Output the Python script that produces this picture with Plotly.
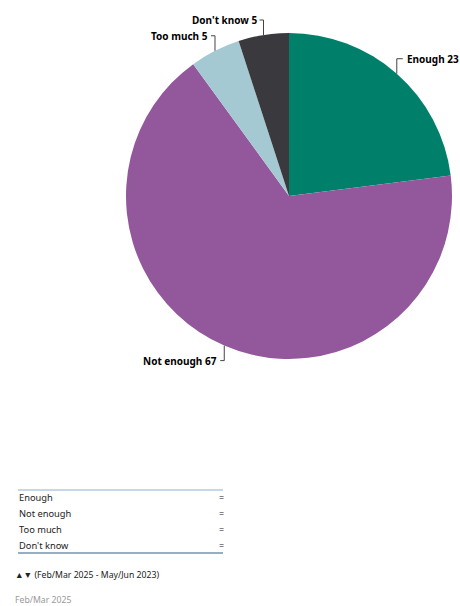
import math
import plotly.graph_objects as go

categories = ["Enough", "Not enough", "Too much", "Don't know"]
values = [23, 67, 5, 5]
colors = ["#00806b", "#93589c", "#a5c9d2", "#3a393e"]
legend_marks = ["=", "=", "=", "="]
footnote = "\u25b2\u25bc (Feb/Mar 2025 - May/Jun 2023)"
period = "Feb/Mar 2025"

W, H = 460, 606
# pie geometry in pixels
cx, cy, R = 289, 196, 163

def px(x):
    return x / W

def py(y):
    return 1 - y / H

fig = go.Figure()
fig.add_trace(go.Pie(
    labels=categories, values=values, sort=False, direction="clockwise", rotation=0,
    marker=dict(colors=colors, line=dict(color="white", width=0)),
    textinfo="none", hoverinfo="label+value", showlegend=False,
    domain=dict(x=[px(cx - R), px(cx + R)], y=[py(cy + R), py(cy - R)]),
))

shapes = []
annotations = []
total = sum(values)
acc = 0
LEAD = 15
for cat, v in zip(categories, values):
    mid = (acc + v / 2) / total * 2 * math.pi
    acc += v
    sx = cx + R * math.sin(mid)
    sy = cy - R * math.cos(mid)
    up = math.cos(mid) > 0
    right = math.sin(mid) > 0
    ey = sy - LEAD if up else sy + LEAD
    hx = sx + 6 if right else sx - 4
    line = dict(color="#444444", width=1)
    shapes.append(dict(type="line", xref="paper", yref="paper",
                       x0=px(sx), y0=py(sy), x1=px(sx), y1=py(ey), line=line))
    shapes.append(dict(type="line", xref="paper", yref="paper",
                       x0=px(sx), y0=py(ey), x1=px(hx), y1=py(ey), line=line))
    annotations.append(dict(
        xref="paper", yref="paper", x=px(hx + (2 if right else -1)), y=py(ey),
        text=f"<b>{cat} {v}</b>", showarrow=False,
        xanchor="left" if right else "right", yanchor="middle",
        font=dict(family="Noto Sans", size=10, color="#000000"),
    ))

# legend table
tx0, tx1 = 18, 223
row_y = [497, 513, 529, 545]
shapes.append(dict(type="line", xref="paper", yref="paper", x0=px(tx0), x1=px(tx1),
                   y0=py(490), y1=py(490), line=dict(color="#8aaed0", width=1)))
shapes.append(dict(type="line", xref="paper", yref="paper", x0=px(tx0), x1=px(tx1),
                   y0=py(553), y1=py(553), line=dict(color="#2d5d8c", width=1.2)))
for cat, mark, y in zip(categories, legend_marks, row_y):
    annotations.append(dict(xref="paper", yref="paper", x=px(tx0 - 1), y=py(y), text=cat,
                            showarrow=False, xanchor="left", yanchor="middle",
                            font=dict(family="Noto Sans", size=9.3, color="#222222")))
    annotations.append(dict(xref="paper", yref="paper", x=px(tx1 + 3), y=py(y), text=mark,
                            showarrow=False, xanchor="right", yanchor="middle",
                            font=dict(family="Noto Sans", size=9, color="#222222")))

annotations.append(dict(xref="paper", yref="paper", x=px(13), y=py(575), text=footnote,
                        showarrow=False, xanchor="left", yanchor="middle",
                        font=dict(family="Noto Sans", size=8.7, color="#222222")))
annotations.append(dict(xref="paper", yref="paper", x=px(13), y=py(600), text=period,
                        showarrow=False, xanchor="left", yanchor="middle",
                        font=dict(family="Noto Sans", size=8.7, color="#999999")))

fig.update_layout(
    width=W, height=H, autosize=False,
    margin=dict(l=0, r=0, t=0, b=0),
    paper_bgcolor="white", plot_bgcolor="white",
    shapes=shapes, annotations=annotations,
)
fig.write_html(
    "out.html",
    config={"displayModeBar": False},
    post_script="document.body.style.margin='0';document.body.style.overflow='hidden';",
)
